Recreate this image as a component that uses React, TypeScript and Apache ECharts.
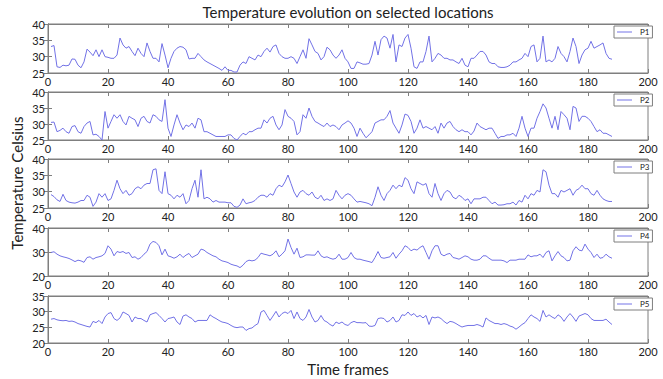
import React, { useEffect, useRef } from "react";
import * as echarts from "echarts";

const seriesNames = ["P1", "P2", "P3", "P4", "P5"];

const xTicks = { min: 0, max: 200, interval: 20 };

const p1 = [
  33.1, 33.4, 26.9, 26.7, 27.4, 27.2, 27.4, 29.3, 29.2, 27.4,
  26.6, 28.4, 32.3, 31.4, 30.3, 32.1, 30.0, 32.1, 30.0, 29.8,
  29.5, 29.5, 30.5, 35.7, 33.6, 32.6, 33.1, 31.6, 30.3, 32.6,
  31.0, 30.0, 34.2, 31.6, 29.5, 29.5, 28.4, 34.0, 30.5, 26.6,
  29.5, 31.6, 32.6, 33.1, 32.9, 32.1, 29.3, 29.5, 29.5, 31.0,
  30.0, 29.0, 28.4, 27.9, 27.4, 26.9, 26.4, 25.8, 26.9, 25.8,
  25.8, 25.3, 25.3, 27.4, 28.4, 27.9, 30.0, 29.5, 29.0, 30.5,
  30.0, 31.6, 32.6, 31.4, 33.1, 33.6, 31.0, 30.0, 29.5, 29.5,
  30.0, 29.5, 27.9, 30.0, 32.1, 29.5, 35.5, 33.6, 31.6, 31.0,
  29.0, 30.0, 32.9, 32.1, 30.5, 29.5, 30.5, 32.1, 29.5, 28.4,
  26.4, 26.4, 28.4, 28.1, 27.7, 27.7, 27.9, 30.5, 34.7, 30.5,
  35.2, 36.3, 35.7, 32.6, 36.8, 28.4, 33.6, 33.1, 35.7, 36.8,
  32.6, 26.9, 26.4, 28.4, 28.4, 31.6, 36.3, 28.4, 29.5, 31.0,
  30.5, 29.5, 29.5, 29.0, 29.0, 28.4, 27.9, 29.5, 27.4, 26.9,
  29.5, 29.5, 30.5, 31.6, 31.6, 30.5, 28.4, 27.9, 27.9, 26.9,
  26.7, 26.7, 26.9, 27.4, 28.4, 28.4, 29.0, 29.5, 31.0, 30.0,
  33.1, 33.6, 28.4, 29.5, 36.3, 28.4, 29.0, 28.4, 29.5, 33.1,
  31.0, 30.0, 28.4, 31.6, 35.7, 33.1, 27.9, 30.5, 32.1, 32.6,
  34.7, 32.6, 33.1, 33.6, 34.2, 31.0, 29.5, 29.2,
];

const p2 = [
  30.5, 30.6, 27.6, 28.0, 28.7, 27.6, 27.1, 29.2, 29.5, 27.6,
  27.1, 29.2, 30.3, 30.8, 26.6, 26.8, 26.1, 25.0, 33.9, 28.7,
  30.8, 32.9, 31.8, 32.9, 30.8, 29.7, 32.4, 31.8, 31.3, 29.2,
  31.8, 32.4, 30.8, 30.3, 32.9, 32.4, 31.3, 30.8, 37.6, 28.7,
  26.1, 29.7, 32.9, 30.3, 28.2, 29.7, 29.2, 30.3, 28.7, 31.8,
  31.3, 27.6, 27.6, 27.1, 26.6, 26.1, 26.1, 26.1, 26.1, 26.6,
  26.6, 25.5, 25.0, 26.1, 27.1, 26.6, 27.6, 27.6, 28.2, 28.7,
  28.7, 31.3, 30.3, 31.8, 32.4, 29.7, 28.2, 29.7, 34.5, 32.4,
  31.8, 30.8, 26.6, 27.6, 32.9, 31.8, 35.0, 32.4, 30.8, 30.3,
  29.7, 29.2, 30.3, 29.2, 29.7, 29.2, 28.2, 29.7, 30.3, 31.0,
  30.3, 28.7, 26.1, 28.7, 27.1, 25.7, 26.6, 27.6, 30.3, 30.8,
  31.3, 31.3, 32.4, 34.2, 30.3, 28.7, 27.1, 29.7, 33.1, 32.7,
  30.8, 27.1, 28.7, 31.3, 28.7, 29.2, 28.7, 28.2, 29.2, 27.1,
  30.3, 28.7, 30.3, 30.8, 29.2, 28.2, 27.6, 28.2, 27.6, 27.6,
  26.6, 27.8, 30.3, 29.2, 28.7, 28.2, 28.7, 28.7, 27.1, 25.5,
  26.1, 26.1, 26.6, 26.6, 27.1, 26.1, 28.7, 32.4, 28.7, 26.1,
  28.7, 28.7, 31.8, 33.9, 36.3, 35.0, 31.8, 28.7, 32.4, 28.2,
  33.9, 32.9, 31.8, 28.2, 35.5, 35.0, 30.8, 32.4, 32.4, 31.8,
  30.8, 29.2, 27.6, 28.2, 27.1, 27.1, 26.6, 26.1,
];

const p3 = [
  29.1, 28.5, 27.5, 27.0, 29.2, 27.3, 26.8, 26.6, 26.5, 26.8,
  27.3, 27.3, 28.9, 28.3, 25.5, 26.8, 29.4, 28.3, 29.4, 27.3,
  27.8, 30.4, 33.5, 30.9, 29.4, 30.4, 28.9, 29.4, 30.9, 31.5,
  30.9, 32.0, 32.5, 32.5, 36.7, 37.0, 30.4, 29.4, 36.1, 29.4,
  28.9, 27.8, 28.9, 28.3, 29.4, 26.3, 27.3, 30.9, 33.5, 28.3,
  36.7, 27.8, 28.3, 27.8, 26.8, 27.3, 26.8, 26.8, 26.8, 26.6,
  26.6, 25.5, 25.2, 25.9, 27.8, 26.3, 26.6, 26.8, 27.3, 28.3,
  28.9, 28.9, 28.3, 29.4, 28.9, 30.9, 32.0, 31.5, 33.0, 35.1,
  32.5, 29.9, 28.3, 29.9, 30.4, 29.4, 28.9, 29.9, 28.3, 27.8,
  28.9, 27.3, 27.8, 27.3, 27.8, 30.4, 28.9, 27.8, 28.9, 29.4,
  28.9, 27.8, 26.8, 27.0, 26.8, 26.6, 26.3, 25.7, 28.3, 31.5,
  28.9, 27.3, 29.4, 30.4, 32.0, 30.9, 32.0, 31.5, 34.3, 33.5,
  30.9, 29.4, 33.0, 32.5, 32.0, 32.5, 29.4, 28.3, 32.5, 29.4,
  27.3, 29.4, 30.4, 29.9, 28.3, 27.8, 28.9, 28.3, 27.3, 27.8,
  26.3, 27.8, 27.8, 27.8, 28.3, 28.3, 27.3, 26.3, 26.8, 25.9,
  25.9, 26.0, 26.3, 26.3, 26.8, 25.9, 27.3, 26.8, 28.9, 27.8,
  29.4, 28.9, 30.4, 29.9, 36.7, 36.1, 32.0, 29.4, 29.4, 28.3,
  30.4, 29.9, 30.4, 30.9, 28.9, 30.4, 30.9, 32.0, 30.9, 30.9,
  29.4, 28.9, 30.4, 28.9, 27.8, 27.3, 27.0, 27.0,
];

const p4 = [
  29.8, 30.1, 29.1, 28.4, 28.0, 27.7, 27.3, 26.7, 26.0, 26.6,
  26.3, 25.7, 27.7, 28.0, 27.0, 27.7, 28.0, 28.4, 29.4, 32.6,
  31.2, 28.4, 30.2, 29.8, 30.2, 29.4, 29.8, 27.7, 28.0, 27.0,
  27.7, 29.1, 30.2, 33.3, 34.4, 34.0, 32.6, 28.8, 31.2, 28.4,
  28.0, 27.4, 28.0, 29.1, 27.7, 28.7, 29.4, 27.7, 28.4, 29.1,
  31.2, 30.8, 29.8, 29.1, 28.4, 28.0, 27.0, 26.3, 26.0, 25.6,
  24.9, 24.5, 24.2, 23.5, 24.5, 26.0, 26.6, 26.3, 26.6, 27.7,
  29.5, 29.1, 28.8, 28.4, 29.1, 30.5, 28.0, 29.1, 30.5, 35.4,
  31.9, 29.1, 31.6, 27.7, 28.0, 28.8, 28.8, 28.7, 28.7, 30.5,
  28.4, 27.7, 28.0, 27.4, 27.0, 27.4, 29.1, 27.0, 27.0, 27.7,
  29.8, 27.7, 27.0, 27.0, 26.6, 26.3, 26.0, 25.6, 27.7, 30.2,
  27.7, 27.4, 27.7, 28.0, 29.8, 27.4, 29.1, 30.5, 32.6, 31.9,
  30.5, 31.2, 30.8, 31.9, 32.6, 29.8, 27.0, 30.5, 32.6, 32.6,
  29.1, 28.4, 29.1, 29.4, 27.7, 27.4, 27.0, 27.7, 28.4, 28.0,
  27.0, 26.6, 26.6, 27.0, 28.4, 28.4, 27.4, 26.6, 26.6, 26.6,
  26.6, 26.3, 25.6, 26.6, 26.6, 26.6, 27.0, 27.0, 27.0, 28.8,
  28.0, 28.4, 28.4, 29.1, 27.7, 29.8, 30.5, 26.3, 28.4, 30.2,
  28.4, 27.7, 26.3, 26.6, 30.5, 32.2, 30.8, 30.5, 33.3, 31.2,
  29.8, 27.7, 29.1, 27.4, 27.7, 29.1, 28.0, 27.4,
];

const p5 = [
  27.6, 27.8, 27.4, 27.2, 27.1, 27.2, 26.9, 27.0, 26.7, 26.2,
  25.9, 25.6, 25.3, 25.1, 26.9, 26.5, 27.2, 26.2, 28.3, 29.4,
  29.7, 27.8, 27.2, 28.0, 29.9, 29.4, 28.8, 26.7, 28.3, 27.8,
  27.8, 27.2, 26.7, 29.0, 29.4, 29.7, 28.8, 27.8, 26.7, 27.8,
  28.0, 28.3, 26.7, 25.9, 28.6, 29.0, 28.3, 27.8, 26.7, 27.2,
  27.2, 27.2, 27.2, 29.0, 28.3, 27.8, 27.2, 26.7, 26.5, 26.2,
  25.6, 25.1, 24.9, 25.1, 25.1, 24.0, 24.6, 24.8, 25.6, 26.2,
  29.9, 30.4, 28.8, 27.2, 28.6, 30.1, 28.3, 29.4, 29.9, 29.4,
  30.4, 27.8, 29.9, 27.8, 27.2, 28.3, 30.7, 28.3, 26.7, 27.2,
  28.8, 27.2, 26.7, 25.9, 25.4, 26.7, 26.2, 26.7, 25.9, 25.6,
  26.5, 26.9, 26.5, 26.5, 26.4, 26.5, 25.4, 25.3, 25.6, 27.8,
  28.0, 27.8, 26.7, 27.2, 28.3, 26.7, 27.2, 29.0, 28.8, 29.9,
  28.8, 29.4, 28.3, 28.8, 28.0, 28.8, 25.9, 28.3, 28.0, 28.3,
  27.8, 26.9, 26.2, 26.9, 26.7, 26.2, 25.6, 25.1, 25.4, 25.6,
  25.6, 25.6, 25.9, 25.6, 25.1, 28.0, 27.2, 26.7, 26.2, 26.2,
  25.9, 26.2, 25.9, 25.4, 25.1, 24.4, 25.1, 25.9, 26.5, 27.8,
  29.0, 28.3, 27.8, 26.9, 30.4, 28.3, 29.0, 28.3, 27.8, 29.0,
  28.3, 26.9, 28.3, 29.4, 28.3, 26.9, 28.6, 29.0, 29.4, 29.0,
  27.8, 27.2, 27.2, 27.2, 27.2, 27.6, 26.7, 25.9,
];

const allSeries = [p1, p2, p3, p4, p5];

// y axis ranges per subplot: [min, max, interval]
const yRanges = [
  [25, 40, 5],
  [25, 40, 5],
  [25, 40, 5],
  [20, 40, 10],
  [20, 35, 5],
];

const titleText = "Temperature evolution on selected locations";
const yAxisTitle = "Temperature Celsius";
const xAxisTitle = "Time frames";

export default function App() {
  const ref = useRef<HTMLDivElement>(null);

  useEffect(() => {
    if (!ref.current) return;
    const chart = echarts.init(ref.current, null, { renderer: "svg" });
    const font = "Lato, 'Open Sans', sans-serif";
    const frame = "#7f7f7f";
    const lineColor = "#7272e6";
    const tops = [24, 92, 159, 228, 296];
    const heights = [49, 48, 49, 48, 47];

    const grid: any[] = [];
    const xAxis: any[] = [];
    const yAxis: any[] = [];
    const series: any[] = [];
    const legend: any[] = [];

    allSeries.forEach((vals, i) => {
      grid.push({
        left: 48,
        width: 600,
        top: tops[i],
        height: heights[i],
        show: true,
        borderColor: frame,
        borderWidth: 1,
      });
      const tickCommon = {
        axisLine: { show: true, lineStyle: { color: frame, width: 1 } },
        axisTick: { show: true, inside: true, length: 4, lineStyle: { color: frame } },
        splitLine: { show: false },
      };
      xAxis.push({
        type: "value",
        gridIndex: i,
        min: xTicks.min,
        max: xTicks.max,
        interval: xTicks.interval,
        position: "bottom",
        ...tickCommon,
        axisLabel: { fontSize: 11, color: "#222", margin: 3, fontFamily: font },
      });
      xAxis.push({
        type: "value",
        gridIndex: i,
        min: xTicks.min,
        max: xTicks.max,
        interval: xTicks.interval,
        position: "top",
        ...tickCommon,
        axisLabel: { show: false },
      });
      const [mn, mx, iv] = yRanges[i];
      yAxis.push({
        type: "value",
        gridIndex: i,
        min: mn,
        max: mx,
        interval: iv,
        position: "left",
        ...tickCommon,
        axisLabel: { fontSize: 11, color: "#222", margin: 3, fontFamily: font },
      });
      yAxis.push({
        type: "value",
        gridIndex: i,
        min: mn,
        max: mx,
        interval: iv,
        position: "right",
        ...tickCommon,
        axisLabel: { show: false },
      });
      series.push({
        name: seriesNames[i],
        type: "line",
        xAxisIndex: i * 2,
        yAxisIndex: i * 2,
        symbol: "none",
        lineStyle: { color: lineColor, width: 1 },
        itemStyle: { color: lineColor },
        data: vals.map((v, k) => [k + 1, v]),
      });
      legend.push({
        data: [{ name: seriesNames[i], icon: "rect" }],
        left: 614,
        top: tops[i] + 2,
        orient: "horizontal",
        backgroundColor: "#fff",
        borderColor: frame,
        borderWidth: 1,
        borderRadius: 0,
        padding: [2, 3, 2, 3],
        itemWidth: 15,
        itemHeight: 1,
        itemGap: 2,
        textStyle: { fontSize: 8, color: "#222", fontFamily: font, padding: [0, 0, 0, 3] },
      });
    });

    chart.setOption({
      animation: false,
      backgroundColor: "#fff",
      grid,
      xAxis,
      yAxis,
      series,
      legend,
      graphic: [
        {
          type: "text",
          x: 348,
          y: 12,
          style: {
            text: titleText,
            fontSize: 15,
            fontFamily: font,
            fill: "#222",
            textAlign: "center",
            textVerticalAlign: "middle",
          },
        },
        {
          type: "text",
          x: 17,
          y: 183,
          rotation: Math.PI / 2,
          style: {
            text: yAxisTitle,
            fontSize: 15,
            fontFamily: font,
            fill: "#222",
            textAlign: "center",
            textVerticalAlign: "middle",
          },
        },
        {
          type: "text",
          x: 348,
          y: 369,
          style: {
            text: xAxisTitle,
            fontSize: 15,
            fontFamily: font,
            fill: "#222",
            textAlign: "center",
            textVerticalAlign: "middle",
          },
        },
      ],
    });
    return () => chart.dispose();
  }, []);

  return (
    <div
      ref={ref}
      style={{ position: "fixed", left: 0, top: 0, width: 663, height: 379 }}
    />
  );
}
